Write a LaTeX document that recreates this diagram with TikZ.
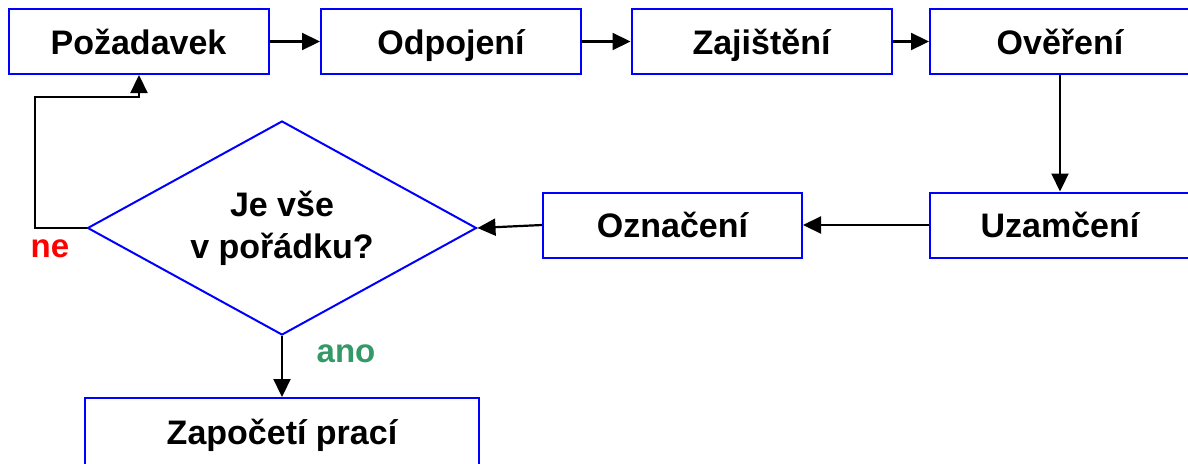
\documentclass[tikz,border=0pt]{standalone}
\usepackage{fontspec}
\setmainfont{Liberation Sans}
\usetikzlibrary{shapes.geometric,arrows.meta}
\definecolor{boxblue}{RGB}{0,0,255}
\definecolor{anogreen}{RGB}{51,153,102}
\definecolor{nered}{RGB}{255,0,0}
\tikzset{
  stepbox/.style={draw=boxblue, line width=2pt, fill=white, minimum width=260pt, minimum height=65pt, inner sep=0pt, text height=25pt, text depth=0pt, font=\fontsize{34}{43}\selectfont\bfseries},
  decide/.style={draw=boxblue, line width=2pt, shape=diamond, aspect=1.82, minimum width=389pt, minimum height=214pt, inner sep=0pt, align=center, font=\fontsize{34}{43}\selectfont\bfseries},
  conn/.style={draw=black, line width=2.2pt, -{Triangle[length=18pt,width=17pt]}},
  lab/.style={font=\fontsize{33}{40}\selectfont\bfseries, inner sep=0pt}
}
\begin{document}
\begin{tikzpicture}[x=1pt,y=-1pt]
\useasboundingbox (0,0) rectangle (1188,463);
\node[stepbox] (poz) at (138.5,41.5) {Požadavek};
\node[stepbox] (odp) at (451,41.5) {Odpojení};
\node[stepbox] (zaj) at (761.5,41.5) {Zajištění};
\node[stepbox] (ove) at (1060,41.5) {Ověření};
\node[stepbox] (uza) at (1060,225) {Uzamčení};
\node[stepbox, minimum width=259pt] (ozn) at (672.5,225) {Označení};
\node[decide] (dec) at (282,228) {Je vše\\[-1pt]v pořádku?};
\node[stepbox, minimum width=394pt, minimum height=68pt] (zap) at (282,432) {Započetí prací};
\coordinate (c1) at (35,228);
\coordinate (c2) at (35,97);
\coordinate (c3) at (139,97);
\draw[conn] (poz) -- (odp);
\draw[conn] (odp) -- (zaj);
\draw[conn] (zaj) -- (ove);
\draw[conn] (ove) -- (uza);
\draw[conn] (uza) -- (ozn);
\draw[conn] (ozn.west) -- (dec.east);
\draw[conn] (dec.south) -- (zap.north);
\draw[conn] (dec.west) -- (c1) -- (c2) -- (c3) -- (c3 |- poz.south);
\node[lab, text=nered] (ne) at (50,249) {ne};
\node[lab, text=anogreen] (ano) at (346,354) {ano};
\end{tikzpicture}
\end{document}
